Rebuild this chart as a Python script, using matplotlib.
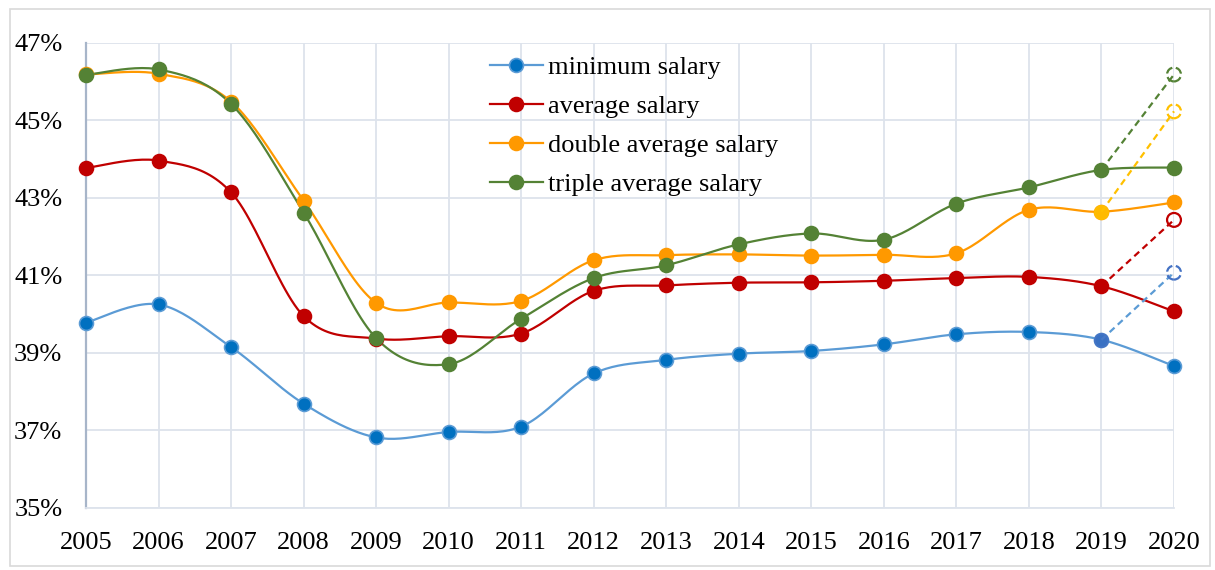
import numpy as np
import matplotlib
matplotlib.use("Agg")
import matplotlib.pyplot as plt
from matplotlib.patches import Rectangle
from matplotlib.ticker import FuncFormatter

years = list(range(2005, 2021))
minimum_salary = [39.78, 40.25, 39.15, 37.69, 36.82, 36.96, 37.10, 38.47, 38.82, 38.98, 39.05, 39.22, 39.48, 39.54, 39.34, 38.66]
average_salary = [43.77, 43.96, 43.14, 39.95, 39.37, 39.43, 39.50, 40.60, 40.74, 40.81, 40.82, 40.86, 40.93, 40.96, 40.72, 40.07]
double_average_salary = [46.18, 46.20, 45.48, 42.93, 40.29, 40.30, 40.34, 41.39, 41.52, 41.54, 41.51, 41.53, 41.57, 42.69, 42.64, 42.88]
triple_average_salary = [46.17, 46.31, 45.42, 42.62, 39.38, 38.71, 39.88, 40.93, 41.26, 41.80, 42.08, 41.92, 42.85, 43.27, 43.72, 43.78]

proj_years = [2019, 2020]
proj_minimum = [39.34, 41.07]
proj_average = [40.72, 42.43]
proj_double = [42.64, 45.23]
proj_triple = [43.72, 46.18]

labels = ["minimum salary", "average salary", "double average salary", "triple average salary"]
yticks = [35, 37, 39, 41, 43, 45, 47]


def catmull_rom(x, y, n=24):
    x = np.asarray(x, float)
    y = np.asarray(y, float)
    px = np.concatenate([[x[0]], x, [x[-1]]])
    py = np.concatenate([[y[0]], y, [y[-1]]])
    xs, ys = [], []
    for i in range(1, len(px) - 2):
        p0x, p1x, p2x, p3x = px[i - 1], px[i], px[i + 1], px[i + 2]
        p0y, p1y, p2y, p3y = py[i - 1], py[i], py[i + 1], py[i + 2]
        c1x = p1x + (p2x - p0x) / 6.0
        c1y = p1y + (p2y - p0y) / 6.0
        c2x = p2x - (p3x - p1x) / 6.0
        c2y = p2y - (p3y - p1y) / 6.0
        t = np.linspace(0, 1, n, endpoint=(i == len(px) - 3))
        b0 = (1 - t) ** 3
        b1 = 3 * (1 - t) ** 2 * t
        b2 = 3 * (1 - t) * t ** 2
        b3 = t ** 3
        xs.append(b0 * p1x + b1 * c1x + b2 * c2x + b3 * p2x)
        ys.append(b0 * p1y + b1 * c1y + b2 * c2y + b3 * p2y)
    return np.concatenate(xs), np.concatenate(ys)


plt.rcParams['font.family'] = ['Liberation Serif', 'DejaVu Serif']

fig = plt.figure(figsize=(12.15, 5.70), dpi=100)
fig.patches.append(Rectangle((10 / 1215, 4 / 570), 1200 / 1215, 557 / 570,
                             transform=fig.transFigure, fill=False,
                             edgecolor='#D9D9D9', linewidth=1.2))
ax = fig.add_axes([86 / 1215, 1 - 508 / 570, (1174 - 86) / 1215, (508 - 42.7) / 570])

series = [
    (minimum_salary, '#5B9BD5', '#0070C0', '#5B9BD5'),
    (average_salary, '#C00000', '#C00000', '#C00000'),
    (double_average_salary, '#FF9900', '#FF9900', '#FF9900'),
    (triple_average_salary, '#548235', '#548235', '#548235'),
]
ms = 10
for (vals, lc, mf, me), lab in zip(series, labels):
    sx, sy = catmull_rom(years, vals)
    ax.plot(sx, sy, color=lc, lw=1.6, zorder=3, solid_capstyle='round', clip_on=False)
    ax.plot(years, vals, linestyle='none', marker='o', ms=ms, mfc=mf, mec=me, mew=1.2,
            zorder=4, clip_on=False)
    ax.plot([], [], color=lc, lw=1.6, marker='o', ms=ms, mfc=mf, mec=me, mew=1.2, label=lab)

proj = [
    (proj_minimum, '#5B9BD5', '#4472C4', '#4472C4', '--'),
    (proj_average, '#C00000', '#C00000', None, '-'),
    (proj_double, '#FFC000', '#FFC000', '#FFC000', '--'),
    (proj_triple, '#548235', '#548235', None, '--'),
]
for vals, lc, mc, start_fill, mls in proj:
    ax.plot(proj_years, vals, color=lc, lw=1.6, linestyle=(0, (3, 2)), zorder=5, clip_on=False)
    if start_fill is not None:
        ax.plot(proj_years[0], vals[0], linestyle='none', marker='o', ms=ms,
                mfc=start_fill, mec=start_fill, alpha=0.85, zorder=5, clip_on=False)
    ax.scatter([proj_years[1]], [vals[1]], s=ms ** 2, facecolors='none', edgecolors=mc,
               linewidths=1.6, linestyles=mls, zorder=6, clip_on=False)

ax.set_xlim(2005, 2020)
ax.set_ylim(35, 47)
ax.set_xticks(years)
ax.set_yticks(yticks)
ax.yaxis.set_major_formatter(FuncFormatter(lambda v, p: f"{int(round(v))}%"))
ax.grid(True, color='#DDE3EC', lw=1.3, zorder=0)
ax.set_axisbelow(True)
for s in ['top', 'right']:
    ax.spines[s].set_visible(False)
ax.spines['left'].set_color('#A7B5C9')
ax.spines['left'].set_linewidth(1.6)
ax.spines['bottom'].set_color('#DDE3EC')
ax.spines['bottom'].set_linewidth(1.3)
ax.tick_params(axis='both', length=0, labelsize=19, colors='black')
ax.tick_params(axis='y', pad=17)
ax.tick_params(axis='x', pad=17)

leg = ax.legend(loc='upper left', bbox_to_anchor=(490 / 1215, 1 - 56 / 570),
                bbox_transform=fig.transFigure, frameon=False, fontsize=19,
                handlelength=2.0, handletextpad=0.2, labelspacing=0.58,
                borderpad=0, borderaxespad=0)

fig.savefig("out.png", dpi=100)
